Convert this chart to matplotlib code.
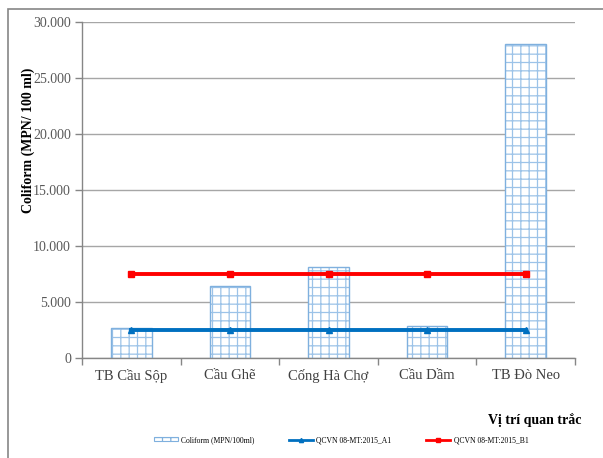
import matplotlib
matplotlib.use("Agg")
import matplotlib.pyplot as plt
from matplotlib.patches import Rectangle, Patch
from matplotlib.lines import Line2D
from matplotlib.ticker import FuncFormatter, FixedLocator
import numpy as np

plt.rcParams['font.family'] = ['Liberation Serif', 'DejaVu Serif']
plt.rcParams['hatch.linewidth'] = 0.9

locations = ["TB Cầu Sộp", "Cầu Ghẽ", "Cống Hà Chợ", "Cầu Dầm", "TB Đò Neo"]
coliform = [2700, 6400, 8100, 2900, 28000]
limit_a1 = [2500, 2500, 2500, 2500, 2500]
limit_b1 = [7500, 7500, 7500, 7500, 7500]
y_ticks = [0, 5000, 10000, 15000, 20000, 25000, 30000]

blue_a1 = "#0070c0"
red_b1 = "#ff0000"

fig = plt.figure(figsize=(6.03, 4.58), dpi=100)
ax = fig.add_axes([82 / 603, 1 - 358 / 458, (575 - 82) / 603, (358 - 22) / 458])

x = np.arange(len(locations))
# hatched fill in a pale blue, then a slightly stronger outline on top
ax.bar(x, coliform, width=0.41, facecolor="white", edgecolor="#9cc3e8",
       hatch="++", linewidth=0, zorder=2)
ax.bar(x, coliform, width=0.41, fill=False, edgecolor="#7fb0de",
       linewidth=1.0, zorder=2)

ax.plot(x, limit_a1, color=blue_a1, lw=2.8, marker="^", ms=4, zorder=3)
ax.plot(x, limit_b1, color=red_b1, lw=2.8, marker="s", ms=4.5, zorder=3)

ax.set_xlim(-0.5, len(locations) - 0.5)
ax.set_ylim(0, 30000)
ax.set_yticks(y_ticks)
ax.yaxis.set_major_formatter(FuncFormatter(
    lambda v, p: "0" if v == 0 else f"{int(v):,}".replace(",", ".")))
ax.grid(axis="y", color="#a6a6a6", lw=1, zorder=0)
ax.set_axisbelow(True)

# category boundaries carry the tick marks, centres carry the labels
ax.xaxis.set_major_locator(FixedLocator(np.arange(-0.5, len(locations), 1.0)))
ax.xaxis.set_major_formatter(FuncFormatter(lambda v, p: ""))
ax.xaxis.set_minor_locator(FixedLocator(x))
ax.set_xticklabels(locations, minor=True)
ax.tick_params(axis="x", which="major", length=5, color="#868686", width=1)
ax.tick_params(axis="x", which="minor", length=0, pad=8, labelsize=10.5,
               labelcolor="#404040")
ax.tick_params(axis="y", length=5, color="#868686", width=1, labelsize=10,
               labelcolor="#595959", pad=3)

for side in ("top", "right"):
    ax.spines[side].set_visible(False)
for side in ("left", "bottom"):
    ax.spines[side].set_color("#868686")
    ax.spines[side].set_linewidth(1)

ax.set_ylabel("Coliform (MPN/ 100 ml)", fontsize=10, fontweight="bold")
ax.yaxis.set_label_coords((35 - 82) / 493, (358 - 140) / 336)
fig.text(535 / 603, 1 - 420 / 458, "Vị trí quan trắc", fontsize=10,
         fontweight="bold", ha="center", va="center")

legend_handles = [
    Patch(facecolor="white", edgecolor="#7fb0de", hatch="++", lw=0.8,
          label="Coliform (MPN/100ml)"),
    Line2D([], [], color=blue_a1, lw=2, marker="^", ms=3,
           label="QCVN 08-MT:2015_A1"),
    Line2D([], [], color=red_b1, lw=2, marker="s", ms=3,
           label="QCVN 08-MT:2015_B1"),
]
fig.legend(handles=legend_handles, loc="center",
           bbox_to_anchor=(341 / 603, 1 - 440 / 458), ncol=3, frameon=False,
           fontsize=5.5, columnspacing=4.5, handlelength=3.2,
           handletextpad=0.4, handleheight=0.5)

# outer chart-area frame
fig.patches.append(Rectangle((8 / 603, -0.05), 1.1, 1 - 9 / 458 + 0.05,
                             transform=fig.transFigure, fill=False,
                             edgecolor="#868686", lw=1.2))

fig.savefig("out.png", dpi=100)
